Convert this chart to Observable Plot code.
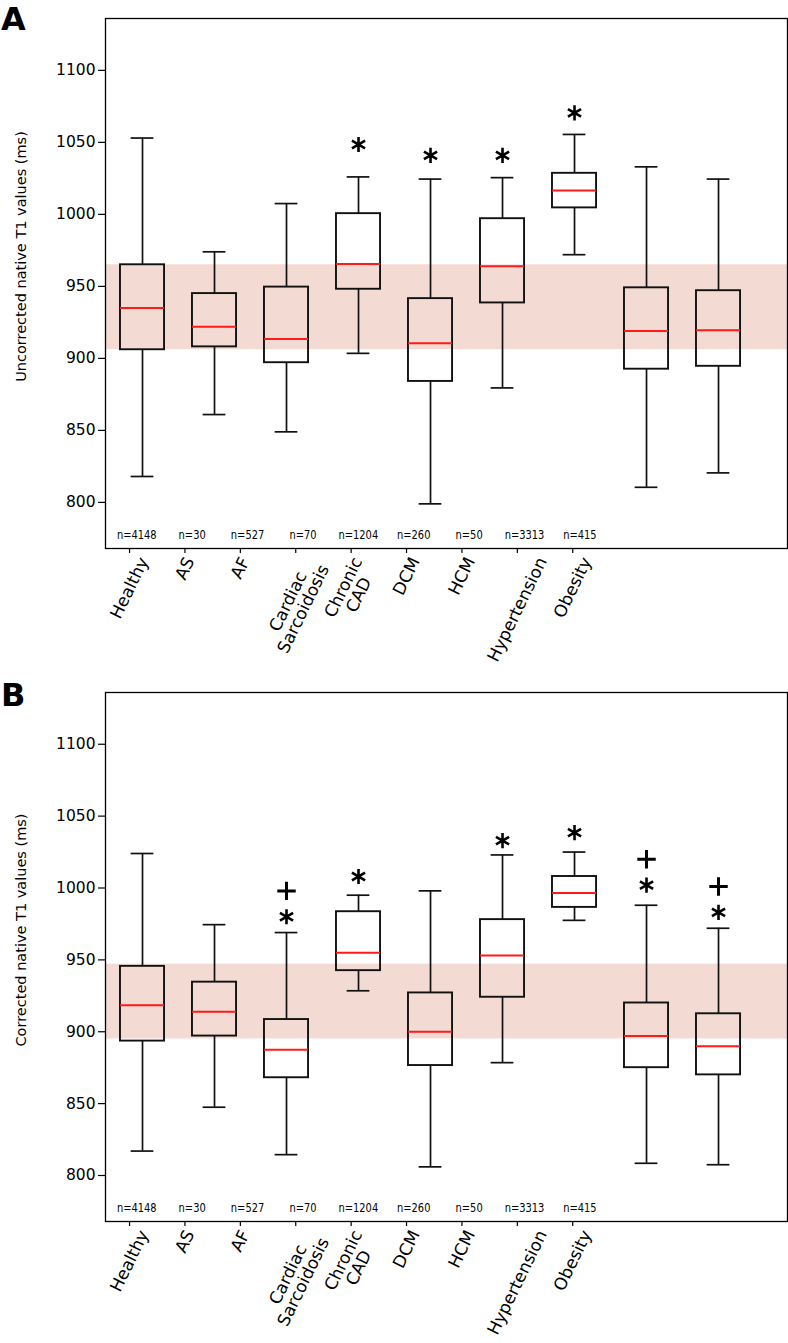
<!DOCTYPE html>
<html><head><meta charset="utf-8">
<script src="https://cdn.jsdelivr.net/npm/d3@7"></script>
<script src="https://cdn.jsdelivr.net/npm/@observablehq/plot@0.6"></script>
<style>
body{margin:0;background:#fff;}
#chart svg{display:block;}
.panel{position:relative;}
.letter{position:absolute;left:1px;font:bold 32px/1 "DejaVu Sans",sans-serif;color:#000;}
</style></head><body><div id="chart"></div>
<script>
const categories = ["Healthy","AS","AF","Cardiac\nSarcoidosis","Chronic\nCAD","DCM","HCM","Hypertension","Obesity"];
const counts = ["n=4148","n=30","n=527","n=70","n=1204","n=260","n=50","n=3313","n=415"];
const yTicks = [800, 850, 900, 950, 1000, 1050, 1100];

// Panel A: uncorrected native T1 (ms)
const aLow  = [818, 861, 849, 903.5, 799, 879.5, 972, 810.5, 820.5];
const aQ1   = [906, 908, 897, 948, 884, 938.5, 1004.5, 892.5, 894.5];
const aMed  = [935, 922, 913.5, 965.5, 910.5, 964, 1016.5, 919, 919.5];
const aQ3   = [965, 945, 949.5, 1000.5, 941.5, 997, 1028.5, 949, 947];
const aHigh = [1053, 974, 1007.5, 1026, 1024.5, 1025.5, 1055.5, 1033, 1024.5];
const aStar = [null, null, null, 1048.5, 1041, 1041, 1070.5, null, null];
const aPlus = [null, null, null, null, null, null, null, null, null];
const aBand = [906, 965];

// Panel B: corrected native T1 (ms)
const bLow  = [817, 847.5, 814.5, 928.5, 806, 878.5, 977.5, 808.5, 807.5];
const bQ1   = [893.5, 897, 868, 942.5, 876.5, 924, 986.5, 875, 870];
const bMed  = [918.5, 914, 887.5, 955, 900, 953, 996.5, 897, 890];
const bQ3   = [945.5, 934.5, 908.5, 983.5, 927, 978, 1008, 920, 912.5];
const bHigh = [1024, 974.5, 969, 995, 998, 1023, 1025, 988, 972];
const bStar = [null, null, 980, 1008, null, 1033, 1038.5, 1002, 983];
const bPlus = [null, null, 998, null, null, null, null, 1020, 1001];
const bBand = [895, 947];

// layout constants
const FONT = "DejaVu Sans";
const xDomain = [-0.514, 8.958];
const boxHalf = 0.306, capHalf = 0.158;
const labelStart = -0.18, labelStep = 0.7694, nShift = 0.1;
const tickPos = categories.map((_, i) => labelStart + labelStep * i);
const labelFs = 17, rot = -64;

const ctx = document.createElement("canvas").getContext("2d");
ctx.font = `${labelFs}px "${FONT}"`;
function labelDy(c) {
  const lines = c.split("\n");
  const L = Math.max(...lines.map(s => ctx.measureText(s).width));
  const H = (lines.length - 1) * labelFs + 0.8 * labelFs;
  const a = Math.abs(rot) * Math.PI / 180;
  return 7 + (L * Math.sin(a) + H * Math.cos(a)) / 2;
}

function panel(cfg) {
  const rows = categories.map((c, i) => ({
    i, low: cfg.low[i], q1: cfg.q1[i], med: cfg.med[i], q3: cfg.q3[i], high: cfg.high[i],
    star: cfg.star[i], plus: cfg.plus[i]
  }));
  const lw = 1.7;
  return Plot.plot({
    width: 788, height: cfg.height,
    marginLeft: 105, marginRight: 1, marginTop: 18, marginBottom: cfg.height - 18 - cfg.inner,
    style: {fontFamily: FONT, background: "white", color: "black"},
    x: {type: "linear", domain: xDomain, label: null},
    y: {domain: [768, 1136], label: null},
    marks: [
      Plot.rect([cfg.band], {x1: () => xDomain[0], x2: () => xDomain[1], y1: d => d[0], y2: d => d[1], fill: "#f3dbd3"}),
      Plot.ruleX(rows, {x: "i", y1: "q3", y2: "high", stroke: "#111", strokeWidth: lw}),
      Plot.ruleX(rows, {x: "i", y1: "low", y2: "q1", stroke: "#111", strokeWidth: lw}),
      Plot.ruleY(rows, {y: "high", x1: d => d.i - capHalf, x2: d => d.i + capHalf, stroke: "#111", strokeWidth: lw}),
      Plot.ruleY(rows, {y: "low", x1: d => d.i - capHalf, x2: d => d.i + capHalf, stroke: "#111", strokeWidth: lw}),
      Plot.rect(rows, {x1: d => d.i - boxHalf, x2: d => d.i + boxHalf, y1: "q1", y2: "q3", fill: "none", stroke: "#111", strokeWidth: 1.9}),
      Plot.ruleY(rows, {y: "med", x1: d => d.i - boxHalf, x2: d => d.i + boxHalf, stroke: "#ff1a1a", strokeWidth: 2}),
      Plot.dot(rows.filter(d => d.star != null), {x: "i", y: "star", symbol: "asterisk", r: 7.2, stroke: "black", strokeWidth: 2.6}),
      Plot.dot(rows.filter(d => d.plus != null), {x: "i", y: "plus", symbol: "plus", r: 6, stroke: "black", strokeWidth: 3}),
      Plot.text(rows, {x: d => tickPos[d.i] + nShift, text: d => counts[d.i], frameAnchor: "bottom", textAnchor: "middle", dy: -10, fontSize: 13, fill: "black"}),
      Plot.frame({stroke: "black", strokeWidth: 1.3}),
      Plot.axisY({ticks: yTicks, tickFormat: d => String(d), tickSize: 7, tickPadding: 3, fontSize: 15.5, label: null, strokeWidth: 1.2}),
      Plot.axisX({ticks: tickPos, tickSize: 5, tickFormat: () => "", label: null, strokeWidth: 1.2}),
      ...categories.map((c, i) => Plot.text([c], {
        x: () => tickPos[i], text: d => d, frameAnchor: "bottom", rotate: rot,
        textAnchor: "middle", lineAnchor: "middle", dy: labelDy(c), fontSize: labelFs, fill: "black"
      })),
      Plot.text([cfg.ylabel], {text: d => d, frameAnchor: "left", textAnchor: "middle", lineAnchor: "middle", dx: -84, dy: -27, rotate: -90, fontSize: 14.5, fill: "black"})
    ]
  });
}

function addPanel(cfg) {
  const wrap = document.createElement("div");
  wrap.className = "panel";
  wrap.appendChild(panel(cfg));
  const letter = document.createElement("div");
  letter.className = "letter";
  letter.style.top = cfg.letterTop + "px";
  letter.textContent = cfg.letter;
  wrap.appendChild(letter);
  document.getElementById("chart").appendChild(wrap);
}

addPanel({
  height: 674, inner: 530, low: aLow, q1: aQ1, med: aMed, q3: aQ3, high: aHigh, star: aStar, plus: aPlus, band: aBand,
  ylabel: "Uncorrected native T1 values (ms)", letter: "A", letterTop: 3
});
addPanel({
  height: 669, inner: 529, low: bLow, q1: bQ1, med: bMed, q3: bQ3, high: bHigh, star: bStar, plus: bPlus, band: bBand,
  ylabel: "Corrected native T1 values (ms)", letter: "B", letterTop: 5
});

// condense the n= count labels, as in the reference
document.querySelectorAll("#chart svg text").forEach(t => {
  if (t.textContent.startsWith("n=")) {
    const len = t.getComputedTextLength();
    t.setAttribute("textLength", (len * 0.76).toFixed(1));
    t.setAttribute("lengthAdjust", "spacingAndGlyphs");
  }
});
</script></body></html>
